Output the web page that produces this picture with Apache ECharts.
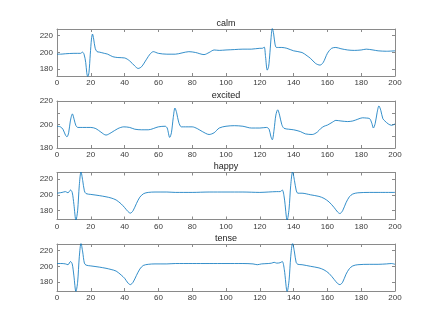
<!DOCTYPE html>
<html>
<head>
<meta charset="utf-8">
<script src="https://cdn.jsdelivr.net/npm/echarts@6/dist/echarts.min.js"></script>
<style>
  html, body { margin: 0; padding: 0; background: #fff; }
  #chart { width: 436px; height: 327px; }
</style>
</head>
<body>
<div id="chart"></div>
<script>
// subplot titles
const titles = ['calm', 'excited', 'happy', 'tense']
const xTicks = [0, 20, 40, 60, 80, 100, 120, 140, 160, 180, 200]

// calm
const calmX = [0, 2, 5, 10, 14, 15, 16, 17, 17.6, 18.2, 18.9, 19.7, 20.4, 21, 21.7, 22.6, 23.7, 25, 28, 30, 33, 36, 40, 43, 46, 48, 50, 53, 55, 57, 60, 65, 70, 74, 78, 82, 87, 90, 93, 96, 100, 105, 110, 115, 120, 121.5, 122.6, 123.4, 124.4, 125.2, 126, 126.7, 127.4, 128.2, 129, 129.8, 131, 133, 136, 140, 145, 148, 150, 153, 155.6, 157.5, 160, 162.5, 165, 168, 172, 176, 180, 183, 187, 190, 195, 200]
const calmY = [198, 198, 198.5, 199, 199, 200.5, 198, 188, 176, 171, 176, 198, 216, 222, 216, 205, 201, 200.5, 199, 198, 195, 194, 193.5, 190, 184, 181, 183, 192, 198, 201, 199, 198, 198, 199.5, 201, 200, 197.5, 200, 203, 202.5, 203, 203.5, 204, 204, 205, 205, 206.5, 195, 179, 183, 200, 218, 229, 222, 210, 206, 206, 206, 205, 202, 200, 196, 193, 187, 185, 188, 199, 205, 206, 204.5, 203, 202.5, 203, 204, 203, 202, 201.5, 202]

// excited
const excitedX = [0, 2, 3.5, 5, 5.9, 6.9, 7.9, 9.1, 10.2, 11.2, 12.4, 15, 20, 23, 26, 29, 32, 36, 39.5, 43, 46, 50, 54, 60, 64, 65.2, 66.7, 67.7, 68.8, 69.8, 70.8, 72, 73.6, 76, 80, 83, 86, 90, 93, 96, 100, 105, 110, 115, 120, 124, 125.5, 126.5, 127.4, 128.4, 129.5, 130.6, 131.7, 133, 134.3, 137, 140, 144, 147, 151, 154, 156, 158, 160, 163, 165, 168, 172, 175, 178, 180.7, 183, 185, 186.3, 187.2, 188.3, 189.4, 190.5, 191.6, 192.8, 194, 196, 198, 200]
const excitedY = [198.5, 198, 196, 191, 189.5, 193, 203, 209, 204, 199, 197.5, 197.5, 197.5, 196.5, 193.5, 191, 193, 196.5, 198, 197.5, 196, 195.5, 195.5, 198, 198.5, 197, 189, 193, 206, 214, 210, 202, 198, 198, 198, 196.5, 194, 191.5, 193, 197, 198.5, 199, 198.5, 197, 197, 197.5, 196, 190, 187, 195, 208, 212.5, 208, 200, 196.8, 196, 195.5, 194, 192, 191.5, 193.5, 196.5, 198.5, 199.5, 202, 203.5, 203, 202.5, 203, 204.5, 205.7, 205.5, 205, 201, 197, 201, 210, 215.8, 212, 205, 203, 200.5, 199.3, 200.5]

// happy
const happyX = [0, 3, 5, 6.5, 8, 9, 10, 11.2, 12.2, 13.2, 14.2, 15.2, 16.2, 17.2, 20, 25, 29, 32, 35, 38, 40, 42, 43.4, 45, 47, 49, 51.3, 54, 58, 65, 70, 80, 90, 100, 110, 120, 125, 130, 132, 133.3, 134.5, 136.2, 137.3, 138.3, 139.4, 140.5, 141.5, 142.5, 145, 150, 155, 158, 161, 164, 166, 167.4, 169, 171, 173, 175, 178, 185, 190, 200]
const happyY = [202, 203, 204, 202.5, 206, 203, 188, 168, 180, 212, 229, 218, 205, 201.5, 200.5, 199, 197.5, 196, 193.5, 188.5, 184, 179, 177, 180, 189, 197, 201.5, 203, 203.5, 203.5, 203, 203, 203.5, 203.5, 203.5, 203, 203.5, 204, 204, 206, 196, 168, 182, 212, 229, 218, 206, 202, 202, 200, 198, 195.5, 191, 184, 178.5, 176.5, 180, 190, 197.5, 201, 202.5, 203, 203, 203]

// tense
const tenseX = [0, 3, 5, 6.5, 8, 9, 10, 11.2, 12.2, 13.2, 14.2, 15.2, 16.2, 17.2, 20, 25, 29, 32, 35, 38, 40, 42, 43.4, 45, 47, 49, 51, 54, 58, 65, 70, 80, 90, 100, 110, 116, 118.5, 121, 125, 127, 128.5, 130, 132, 133.3, 134.5, 136.2, 137.3, 138.3, 139.4, 140.5, 141.5, 142.5, 145, 150, 155, 158, 161, 164, 166, 167.4, 169, 171, 173, 175, 178, 185, 190, 195, 198, 200]
const tenseY = [203.5, 203.5, 203, 202, 206, 203, 188, 168, 180, 212, 229, 218, 204, 201.5, 200.5, 199, 197.5, 196, 194, 189, 185, 179, 177, 180, 188.5, 196.5, 201, 202.5, 203, 203, 203.5, 203.5, 203.5, 203.5, 203.5, 203, 202, 203, 203.5, 204, 205, 204, 204.5, 206, 196, 168, 182, 212, 229, 218, 205, 202.5, 202, 200, 198, 195.5, 191, 183.5, 178.5, 177, 180, 190, 197, 200.5, 202, 202.5, 202.5, 203, 203.5, 202.5]

const seriesX = [calmX, excitedX, happyX, tenseX]
const seriesY = [calmY, excitedY, happyY, tenseY]
const yMin = [172, 180, 169, 169]
const yMax = [228, 220, 228, 228]
const gridTop = [29, 101, 172.5, 244]

const chart = echarts.init(document.getElementById('chart'))

const boxColor = '#8a8a8a'
const labelColor = '#3a3a3a'
const font = 'Liberation Sans'

const grids = [], xAxes = [], yAxes = [], series = [], title = []
for (let i = 0; i < 4; i++) {
  grids.push({ left: 57, right: 41, top: gridTop[i], height: 47 })
  title.push({
    text: titles[i],
    left: 226,
    top: gridTop[i] - 10,
    textAlign: 'center',
    padding: 0,
    textStyle: { fontFamily: font, fontSize: 9, fontWeight: 'normal', color: '#222' }
  })
  // bottom + top x axis (box on, ticks inward)
  for (const pos of ['bottom', 'top']) {
    xAxes.push({
      type: 'value', gridIndex: i, position: pos, min: 0, max: 200, interval: 20,
      axisLine: { show: true, onZero: false, lineStyle: { color: boxColor, width: 1 } },
      axisTick: { show: true, inside: true, length: 3, lineStyle: { color: boxColor } },
      axisLabel: {
        show: pos === 'bottom', margin: 3, fontFamily: font, fontSize: 8, color: labelColor,
        showMinLabel: true, showMaxLabel: true
      },
      splitLine: { show: false }
    })
  }
  for (const pos of ['left', 'right']) {
    yAxes.push({
      type: 'value', gridIndex: i, position: pos, min: yMin[i], max: yMax[i], splitNumber: 3,
      axisLine: { show: true, onZero: false, lineStyle: { color: boxColor, width: 1 } },
      axisTick: { show: true, inside: true, length: 3, lineStyle: { color: boxColor } },
      axisLabel: {
        show: pos === 'left', margin: 4, fontFamily: font, fontSize: 8, color: labelColor,
        formatter: v => (v % 20 === 0 ? String(v) : '')
      },
      splitLine: { show: false }
    })
  }
  series.push({
    type: 'line',
    xAxisIndex: i * 2,
    yAxisIndex: i * 2,
    data: seriesX[i].map((x, k) => [x, seriesY[i][k]]),
    showSymbol: false,
    smooth: 0.3,
    clip: true,
    lineStyle: { color: '#0072BD', width: 0.8 },
    animation: false
  })
}

chart.setOption({
  backgroundColor: '#fff',
  animation: false,
  title: title,
  grid: grids,
  xAxis: xAxes,
  yAxis: yAxes,
  series: series
})
</script>
</body>
</html>
